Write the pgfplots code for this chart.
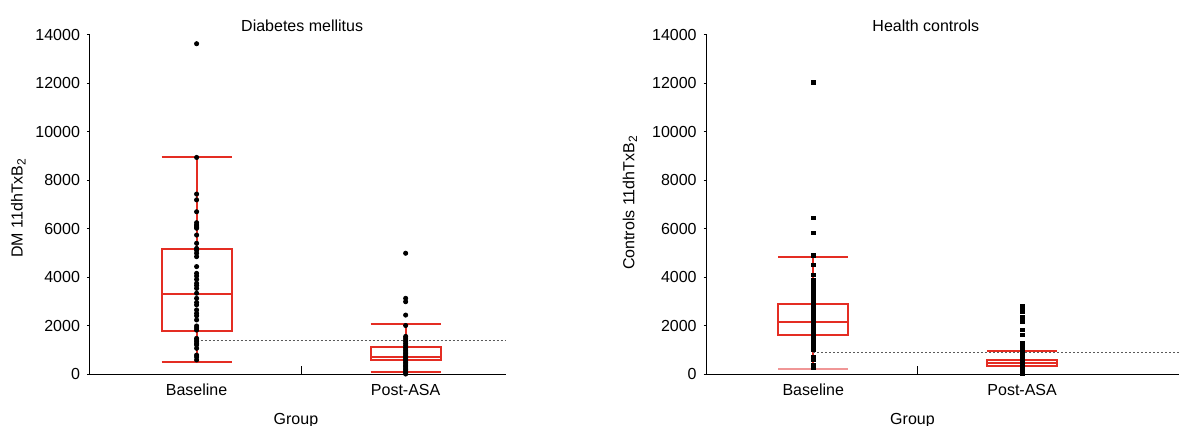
\documentclass[border=0pt]{standalone}
\usepackage{fontspec}
\setmainfont{Liberation Sans}
\usepackage{pgfplots}
\pgfplotsset{compat=1.18}
\definecolor{boxred}{RGB}{228,45,35}
\definecolor{boxpink}{RGB}{240,150,150}
\definecolor{dashgray}{RGB}{90,90,90}
\pgfplotsset{
 panel/.style={
  scale only axis, axis x line*=bottom, axis y line*=left,
  ymin=0, ymax=14000, ytick={0,2000,4000,6000,8000,10000,12000,14000},
  height=169.75pt,
  xtick={0,1}, xticklabels={Baseline,Post-ASA},
  xtick style={draw=none},
  ytick style={black, line width=0.5pt},
  major tick length=1.5pt, tick align=outside,
  scaled y ticks=false,
  /pgf/number format/assume math mode=true,
  /pgf/number format/1000 sep={},
  ticklabel style={font=\fontsize{8}{9}\selectfont},
  label style={font=\fontsize{8}{9}\selectfont},
  title style={font=\fontsize{8}{9}\selectfont},
  every axis title shift=0pt,
  axis line style={line width=0.5pt},
  clip=false,
  unbounded coords=jump,
  xlabel={Group},
 },
 bx/.style={boxred, line width=1pt, line join=miter},
 dotsc/.style={only marks, mark=*, mark size=1.05pt, black},
 dotss/.style={only marks, mark=square*, mark size=0.9pt, black},
}
\begin{document}
\begin{tikzpicture}
\useasboundingbox (0,0) rectangle (589.5pt,212.5pt);
% ---------------- left panel ----------------
\begin{axis}[panel, at={(45pt,25.5pt)}, anchor=south west,
  width=208pt, xmin=-0.51, xmax=1.48,
  title={Diabetes mellitus},
  title style={at={(axis description cs:0.51,1)}, anchor=base, yshift=1.4pt},
  xlabel style={at={(axis description cs:0.495,0)}, anchor=base, yshift=-25pt},
  ylabel={DM 11dhTxB\textsubscript{2}},
  ylabel style={at={(axis description cs:0,0.49)}, anchor=center, yshift=35.85pt},
]
% Baseline box: LW 510, Q1 1773, M 3300, Q3 5140, UW 8930
\addplot[bx] coordinates {(-0.1675,1773) (0.1675,1773) (0.1675,5140) (-0.1675,5140) (-0.1675,1773) (0.1675,1773)
  (0,nan) (-0.1675,3300) (0.1675,3300) (0,nan) (0,5140) (0,8930) (0,nan) (-0.1675,8930) (0.1675,8930)
  (0,nan) (0,1773) (0,510) (0,nan) (-0.1675,510) (0.1675,510)};
% Post-ASA box: LW 70, Q1 577, M 715, Q3 1125, UW 2060
\addplot[bx] coordinates {(0.8325,577) (1.1675,577) (1.1675,1125) (0.8325,1125) (0.8325,577) (1.1675,577)
  (0,nan) (0.8325,715) (1.1675,715) (0,nan) (1,1125) (1,2060) (0,nan) (0.8325,2060) (1.1675,2060)
  (0,nan) (1,577) (1,70) (0,nan) (0.8325,70) (1.1675,70)};
\addplot[dashgray, line width=0.5pt, dash pattern=on 1pt off 1pt] coordinates {(0,1400) (1.48,1400)};
\addplot[dotsc] coordinates {
 (0,13620) (0,8930) (0,7420) (0,7180) (0,6690) (0,6240) (0,6150) (0,6100) (0,6050) (0,6010)
 (0,5730) (0,5390) (0,5180) (0,5100) (0,4980) (0,4840) (0,4430) (0,4150) (0,4040) (0,3900)
 (0,3740) (0,3650) (0,3530) (0,3330) (0,3120) (0,2950) (0,2850) (0,2640) (0,2500) (0,2400)
 (0,2230) (0,1980) (0,1900) (0,1810) (0,1470) (0,1400) (0,1330) (0,1250) (0,1200) (0,1060)
 (0,780) (0,700) (0,580)
};
\addplot[dotsc] coordinates {
 (1,4980) (1,3120) (1,2980) (1,2430) (1,2000) (1,1550) (1,1480) (1,1400) (1,1330) (1,1250)
 (1,1180) (1,1100) (1,1030) (1,960) (1,900) (1,840) (1,780) (1,720) (1,660) (1,600)
 (1,540) (1,480) (1,420) (1,360) (1,300) (1,240) (1,180) (1,120) (1,60) (1,0)
};
\addplot[black, line width=0.5pt] coordinates {(0.5,0) (0.5,330)};
\end{axis}
% ---------------- right panel ----------------
\begin{axis}[panel, at={(353.35pt,25.5pt)}, anchor=south west,
  width=238.15pt, xmin=-0.51, xmax=1.77,
  title={Health controls},
  title style={at={(axis description cs:0.46,1)}, anchor=base, yshift=1.4pt},
  xlabel style={at={(axis description cs:0.432,0)}, anchor=base, yshift=-25pt},
  ylabel={Controls 11dhTxB\textsubscript{2}},
  ylabel style={at={(axis description cs:0,0.505)}, anchor=center, yshift=38.35pt},
]
% Baseline box: LW 200, Q1 1610, M 2130, Q3 2900, UW 4840
\addplot[bx] coordinates {(-0.1675,1610) (0.1675,1610) (0.1675,2900) (-0.1675,2900) (-0.1675,1610) (0.1675,1610)
  (0,nan) (-0.1675,2130) (0.1675,2130) (0,nan) (0,2900) (0,4840) (0,nan) (-0.1675,4840) (0.1675,4840)
  (0,nan) (0,1610) (0,200)};
\addplot[boxpink, line width=1pt] coordinates {(-0.1675,200) (0.1675,200)};
% Post-ASA box: LW 300, Q1 340, M 470, Q3 577, UW 960
\addplot[bx] coordinates {(0.8325,340) (1.1675,340) (1.1675,577) (0.8325,577) (0.8325,340) (1.1675,340)
  (0,nan) (0.8325,470) (1.1675,470) (0,nan) (1,577) (1,960) (0,nan) (0.8325,960) (1.1675,960)};
\addplot[dashgray, line width=0.5pt, dash pattern=on 1pt off 1pt] coordinates {(0,900) (1.77,900)};
\addplot[dotss] coordinates {
 (0,12030) (0,6430) (0,5815) (0,4900) (0,4500) (0,4080) (0,3870) (0,3740)
 (0,3530) (0,3480) (0,3430) (0,3380) (0,3330) (0,3280) (0,3230) (0,3180) (0,3130) (0,3080)
 (0,3030) (0,2980) (0,2930) (0,2880) (0,2830) (0,2780) (0,2730) (0,2680) (0,2630) (0,2580)
 (0,2530) (0,2480) (0,2430) (0,2380) (0,2330) (0,2280) (0,2230) (0,2180) (0,2130) (0,2080)
 (0,2030) (0,1980) (0,1930) (0,1880) (0,1830) (0,1780) (0,1730) (0,1680) (0,1630) (0,1580)
 (0,1530) (0,1480) (0,1430) (0,1400) (0,1270) (0,1190) (0,1110) (0,990) (0,710) (0,577)
 (0,370) (0,250)
};
\addplot[dotss] coordinates {
 (1,2780) (1,2570) (1,2360) (1,2160) (1,1815) (1,1610) (1,1265) (1,1060)
 (1,1000) (1,950) (1,900) (1,850) (1,800) (1,750) (1,700) (1,650) (1,600) (1,550)
 (1,500) (1,450) (1,400) (1,350) (1,300) (1,250) (1,200) (1,150) (1,100) (1,50) (1,0)
};
\addplot[black, line width=0.5pt] coordinates {(0.5,0) (0.5,330)};
\end{axis}
\end{tikzpicture}
\end{document}
